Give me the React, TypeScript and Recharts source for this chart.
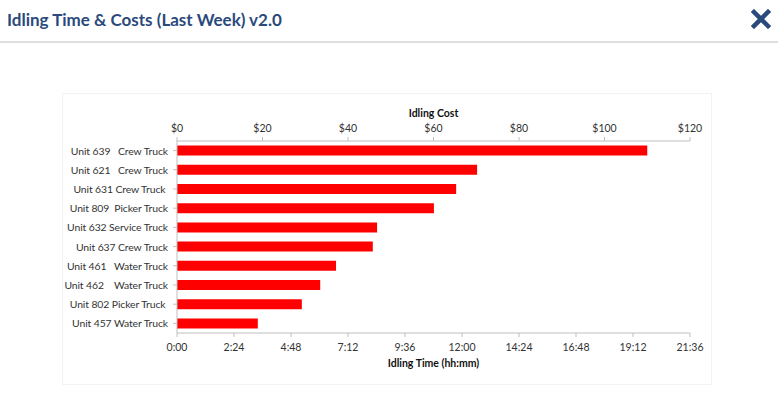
import { BarChart, Bar, XAxis, YAxis } from 'recharts';

// Units listed top to bottom as they appear in the report
const UNITS = [
  'Unit 639   Crew Truck',
  'Unit 621   Crew Truck',
  'Unit 631 Crew Truck ',
  'Unit 809  Picker Truck',
  'Unit 632 Service Truck',
  'Unit 637 Crew Truck',
  'Unit 461   Water Truck',
  'Unit 462    Water Truck',
  'Unit 802 Picker Truck ',
  'Unit 457 Water Truck',
];

// idling cost in dollars
const COSTS = [110, 70.2, 65.3, 60.1, 46.8, 45.8, 37.2, 33.5, 29.2, 18.9];

const COST_TICKS = [0, 20, 40, 60, 80, 100, 120];
// bottom axis in hours, labelled hh:mm
const TIME_TICKS = [0, 2.4, 4.8, 7.2, 9.6, 12, 14.4, 16.8, 19.2, 21.6];

const data = UNITS.map((unit, i) => ({ unit, cost: COSTS[i] }));

const FONT = 'Lato, "Open Sans", sans-serif';
const AXIS_GREY = '#bfbfbf';

function hhmm(h: number): string {
  const mins = Math.round(h * 60);
  return `${Math.floor(mins / 60)}:${String(mins % 60).padStart(2, '0')}`;
}

function UnitTick(props: any) {
  const { x, y, payload } = props;
  return (
    <text
      x={x - 3}
      y={y}
      dy={4}
      textAnchor="end"
      fontSize={10.4}
      letterSpacing={-0.1}
      fill="#333"
      fontFamily={FONT}
      style={{ whiteSpace: 'pre' }}
    >
      {payload.value}
    </text>
  );
}

export default function App() {
  return (
    <div
      style={{
        position: 'absolute',
        left: 0,
        top: 0,
        width: 778,
        height: 399,
        background: '#fff',
        fontFamily: FONT,
        overflow: 'hidden',
      }}
    >
      <div
        style={{
          position: 'absolute',
          left: 7,
          top: 9,
          fontSize: 17,
          fontWeight: 700,
          color: '#2b4a7c',
        }}
      >
        Idling Time &amp; Costs (Last Week) v2.0
      </div>
      <svg
        style={{ position: 'absolute', left: 751, top: 9 }}
        width={20}
        height={20}
        viewBox="0 0 20 20"
      >
        <path d="M3 3 L17 17 M17 3 L3 17" stroke="#2b4a7c" strokeWidth={4.5} strokeLinecap="square" />
      </svg>
      <div
        style={{
          position: 'absolute',
          left: 0,
          top: 41,
          width: 778,
          height: 2,
          background: '#dedede',
        }}
      />
      <div
        style={{
          position: 'absolute',
          left: 62,
          top: 93,
          width: 650,
          height: 292,
          border: '1px solid #f3f3f3',
          boxSizing: 'border-box',
        }}
      />
      <div style={{ position: 'absolute', left: 40, top: 93 }}>
        <BarChart
          width={672}
          height={292}
          data={data}
          layout="vertical"
          margin={{ top: 10, right: 22, bottom: 10, left: 0 }}
          barCategoryGap="24%"
        >
          <YAxis
            type="category"
            dataKey="unit"
            width={137}
            tick={<UnitTick />}
            tickLine={{ stroke: AXIS_GREY }}
            tickSize={4}
            axisLine={{ stroke: AXIS_GREY }}
            interval={0}
          />
          <XAxis
            xAxisId="cost"
            type="number"
            orientation="top"
            dataKey="cost"
            domain={[0, 120]}
            ticks={COST_TICKS}
            tickFormatter={(v: number) => `$${v}`}
            height={38}
            tick={{ fontSize: 10.5, fill: '#333', fontFamily: FONT }}
            tickLine={{ stroke: AXIS_GREY }}
            tickSize={4}
            tickMargin={5}
            axisLine={{ stroke: AXIS_GREY }}
            label={{
              value: 'Idling Cost',
              position: 'insideTop',
              offset: 7,
              fontSize: 10.5,
              fontWeight: 700,
              fill: '#111',
              fontFamily: FONT,
            }}
          />
          <XAxis
            xAxisId="time"
            type="number"
            orientation="bottom"
            domain={[0, 21.6]}
            ticks={TIME_TICKS}
            allowDataOverflow
            tickFormatter={hhmm}
            height={42}
            tick={{ fontSize: 10.5, fill: '#333', fontFamily: FONT }}
            tickLine={{ stroke: AXIS_GREY }}
            tickSize={4}
            tickMargin={7}
            axisLine={{ stroke: AXIS_GREY }}
            label={{
              value: 'Idling Time (hh:mm)',
              position: 'insideBottom',
              offset: 8,
              fontSize: 10.5,
              fontWeight: 700,
              fill: '#111',
              fontFamily: FONT,
            }}
          />
          <Bar xAxisId="cost" dataKey="cost" fill="#ff0000" isAnimationActive={false} />
        </BarChart>
      </div>
    </div>
  );
}
